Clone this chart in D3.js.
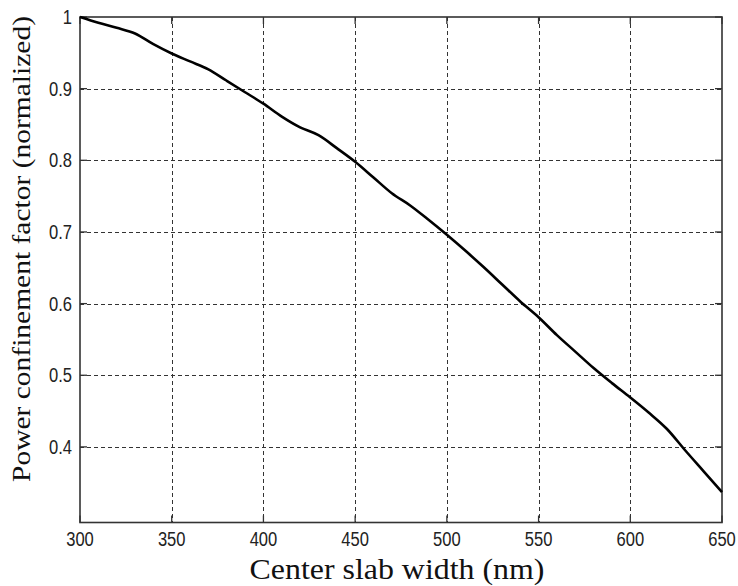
<!DOCTYPE html>
<html>
<head>
<meta charset="utf-8">
<script src="https://cdn.jsdelivr.net/npm/d3@7"></script>
<style>
  html, body { margin: 0; padding: 0; background: #fff; }
  svg { display: block; }
</style>
</head>
<body>
<svg id="chart" width="738" height="586"></svg>
<script>
// Slab width (nm) and normalized power confinement factor
const widths = [300, 310, 320, 330, 340, 350, 360, 370, 380, 390, 400, 410, 420, 430, 440, 450,
  460, 470, 480, 490, 500, 510, 520, 530, 540, 550, 560, 570, 580, 590, 600, 610, 620, 630, 640, 650];
const confinement = [1.000, 0.992, 0.985, 0.977, 0.962, 0.949, 0.938, 0.927, 0.911, 0.895, 0.879,
  0.861, 0.846, 0.835, 0.817, 0.798, 0.776, 0.754, 0.737, 0.717, 0.696, 0.674, 0.651, 0.627,
  0.603, 0.581, 0.556, 0.533, 0.510, 0.489, 0.469, 0.448, 0.425, 0.395, 0.366, 0.337];
const xTicks = [300, 350, 400, 450, 500, 550, 600, 650];
const yTicks = [0.4, 0.5, 0.6, 0.7, 0.8, 0.9, 1];

const svg = d3.select("#chart");
const L = 80, R = 722, T = 17, B = 522.5;

const x = d3.scaleLinear().domain([300, 650]).range([L, R]);
const y = d3.scaleLinear().domain([0.2945, 1]).range([B, T]);

// dashed grid
const grid = svg.append("g").attr("stroke", "#333").attr("stroke-width", 1.2)
  .attr("stroke-dasharray", "4,3").attr("shape-rendering", "crispEdges");
grid.selectAll(".gx").data(xTicks.slice(1, -1)).join("line")
  .attr("x1", d => Math.round(x(d)) + 0.5).attr("x2", d => Math.round(x(d)) + 0.5)
  .attr("y1", T).attr("y2", B);
grid.selectAll(".gy").data(yTicks.slice(0, -1)).join("line")
  .attr("y1", d => Math.round(y(d)) + 0.5).attr("y2", d => Math.round(y(d)) + 0.5)
  .attr("x1", L).attr("x2", R);

// inward ticks on all four sides
const tk = 7;
const ticks = svg.append("g").attr("stroke", "#333").attr("stroke-width", 1.3);
ticks.selectAll(".tb").data(xTicks).join("line")
  .attr("x1", d => x(d)).attr("x2", d => x(d)).attr("y1", B).attr("y2", B - tk);
ticks.selectAll(".tt").data(xTicks).join("line")
  .attr("x1", d => x(d)).attr("x2", d => x(d)).attr("y1", T).attr("y2", T + tk);
ticks.selectAll(".tl").data(yTicks).join("line")
  .attr("y1", d => y(d)).attr("y2", d => y(d)).attr("x1", L).attr("x2", L + tk);
ticks.selectAll(".tr").data(yTicks).join("line")
  .attr("y1", d => y(d)).attr("y2", d => y(d)).attr("x1", R).attr("x2", R - tk);

// axes box
svg.append("rect").attr("x", L).attr("y", T).attr("width", R - L).attr("height", B - T)
  .attr("fill", "none").attr("stroke", "#333").attr("stroke-width", 1.6);

// curve
const line = d3.line().x((d, i) => x(widths[i])).y(d => y(d)).curve(d3.curveMonotoneX);
svg.append("path").datum(confinement).attr("d", line)
  .attr("fill", "none").attr("stroke", "#000").attr("stroke-width", 2.6)
  .attr("stroke-linejoin", "round");

// tick labels (slightly tall, narrow digits)
const tickFont = "Liberation Sans, Arial, sans-serif";
svg.append("g").selectAll("text").data(xTicks).join("text")
  .attr("transform", d => `translate(${x(d)},546) scale(0.92,1.12)`)
  .attr("text-anchor", "middle")
  .attr("font-family", tickFont).attr("font-size", 18).attr("fill", "#222")
  .text(d => d);
svg.append("g").selectAll("text").data(yTicks).join("text")
  .attr("transform", d => `translate(72,${y(d) + 7}) scale(0.92,1.12)`)
  .attr("text-anchor", "end")
  .attr("font-family", tickFont).attr("font-size", 18).attr("fill", "#222")
  .text(d => d);

// axis titles
svg.append("text").attr("x", 397).attr("y", 579).attr("text-anchor", "middle")
  .attr("font-family", "Liberation Serif, Times New Roman, serif").attr("font-size", 29)
  .attr("textLength", 295).attr("lengthAdjust", "spacingAndGlyphs")
  .attr("fill", "#111").text("Center slab width (nm)");
svg.append("text").attr("transform", "translate(30,249) rotate(-90)").attr("text-anchor", "middle")
  .attr("font-family", "Liberation Serif, Times New Roman, serif").attr("font-size", 25)
  .attr("textLength", 466).attr("lengthAdjust", "spacingAndGlyphs")
  .attr("fill", "#111").text("Power confinement factor (normalized)");
</script>
</body>
</html>
